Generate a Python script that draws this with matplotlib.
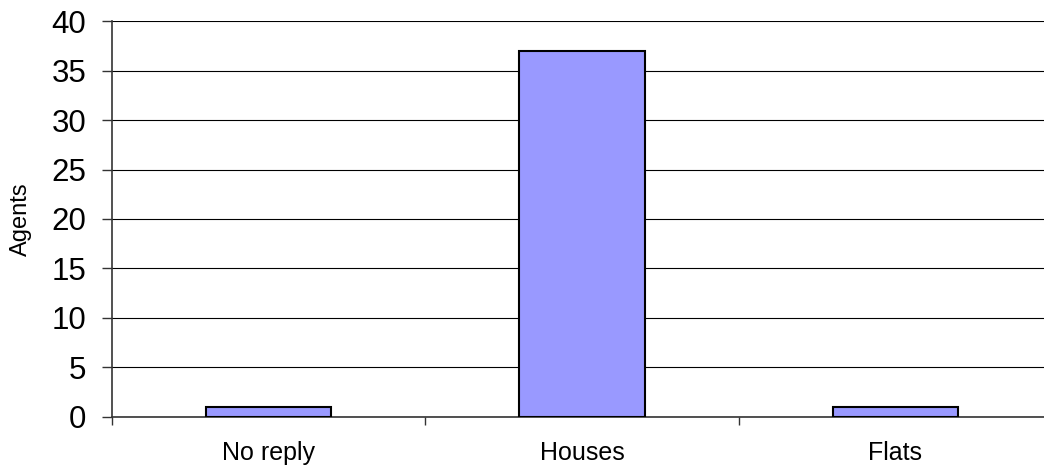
import matplotlib.pyplot as plt
import numpy as np

plt.rcParams["font.family"] = ["Liberation Sans", "DejaVu Sans"]

# Agents by property type
categories = ["No reply", "Houses", "Flats"]
agents = [1, 37, 1]

fig = plt.figure(figsize=(10.44, 4.69), dpi=100)
ax = fig.add_axes([0.1073, 0.1109, 0.9004, 0.8443])

x = np.arange(len(categories))
ax.bar(x, agents, width=0.4, color="#9999FF", edgecolor="black", linewidth=1.5, zorder=3)

ax.set_xlim(-0.5, len(categories) - 0.5)
ax.set_ylim(0, 40)
ax.set_yticks(range(0, 41, 5))
ax.yaxis.grid(True, color="black", linewidth=0.8, zorder=0)
ax.tick_params(axis="y", labelsize=22.5, length=7.5, width=1, color="#333333", pad=11)

# category labels centred, tick marks on the boundaries
ax.set_xticks(x)
ax.set_xticklabels(categories, fontsize=18)
ax.set_xticks(np.arange(-0.5, len(categories)), minor=True)
ax.tick_params(axis="x", which="major", length=0, pad=17)
ax.tick_params(axis="x", which="minor", length=6, width=1, color="#333333")

ax.set_ylabel("Agents", fontsize=17, labelpad=14)

for side in ("top", "right"):
    ax.spines[side].set_visible(False)
ax.spines["left"].set_color("#333333")
ax.spines["bottom"].set_color("#333333")
ax.spines["left"].set_linewidth(1.2)
ax.spines["bottom"].set_linewidth(1.2)

fig.savefig("out.png", dpi=100)
